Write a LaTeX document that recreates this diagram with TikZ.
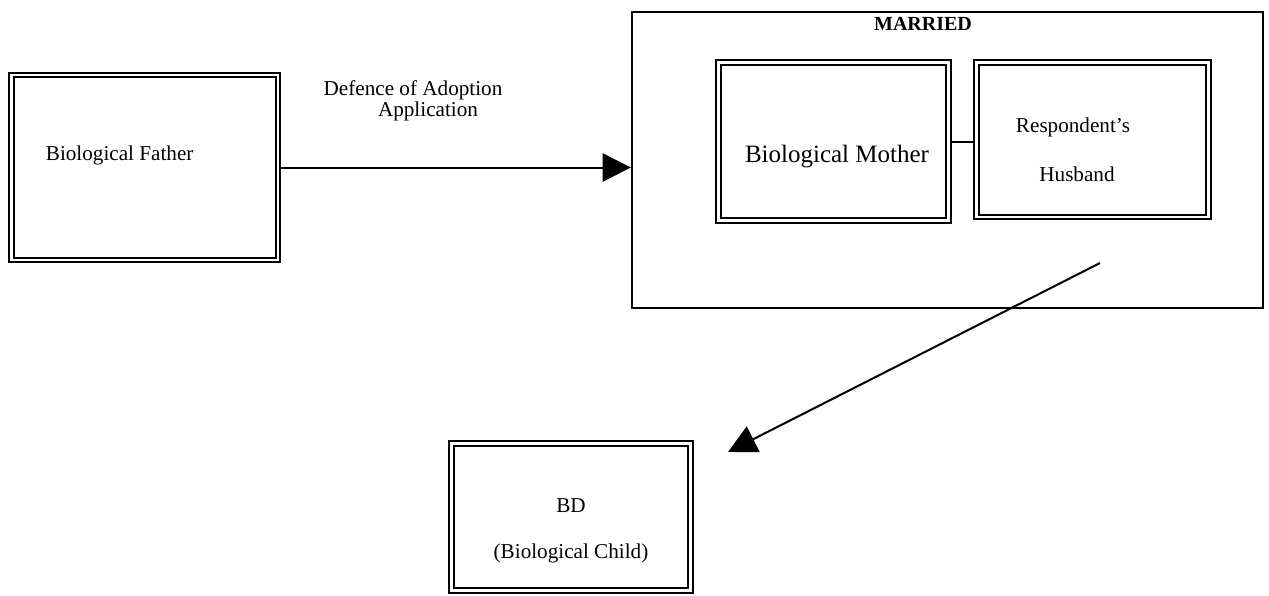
\documentclass[tikz,border=0pt]{standalone}
\usepackage{fontspec}
\setmainfont{Liberation Serif}
\usepackage{tikz}
\usetikzlibrary{positioning}
\usetikzlibrary{calc}
\usetikzlibrary{fit}
\usetikzlibrary{arrows.meta}

\begin{document}
\begin{tikzpicture}[
    x=0.6pt, y=-0.6pt,
    font=\fontsize{12.7}{15}\selectfont,
    person box/.style={
        draw, double, line width=1.3pt, double distance=1.3pt,
        inner sep=0pt
    },
    group box/.style={
        draw, line width=1.4pt, inner sep=0pt
    },
    big arrow/.style={
        line width=1.2pt,
        -{Triangle[length=17pt, width=17pt]}
    }
]
\useasboundingbox (0,0) rectangle (1269,595);

% boxes
\node[person box, fit={(11.5,75) (278,260)}] (father) {};
\node[group box, fit={(632,12) (1263,308)}] (married) {};
\node[person box, fit={(718.5,62.5) (948.5,220.5)}] (mother) {};
\node[person box, fit={(976.5,62.5) (1208.5,217)}] (husband) {};
\node[person box, fit={(451.5,443.5) (690.5,590.5)}] (child) {};

% texts
\node[anchor=west] (fathertxt) at (40,155) {Biological Father};
\node[font=\fontsize{12}{14}\selectfont\bfseries] (marriedtxt) at (923,24) {MARRIED};
\node[font=\fontsize{15}{18}\selectfont] (mothertxt) at (837,157) {Biological Mother};
\node (resptxt) at (1073,127) {Respondent’s};
\node (husbtxt) at (1077,174) {Husband};
\node (bdtxt) at (571,506) {BD};
\node (childtxt) at (571,553) {(Biological Child)};
\node (deftxt) at (413,90) {Defence of Adoption};
\node (apptxt) at (428,111) {Application};

% connectors
\coordinate (d1) at (1100,263);
\coordinate (d2) at (728,452);

\draw[big arrow] (father.east) -- (father.east -| married.west);
\draw[line width=1.2pt] (mother.east) -- (mother.east -| husband.west);
\draw[big arrow] (d1) -- (d2);

\end{tikzpicture}
\end{document}
